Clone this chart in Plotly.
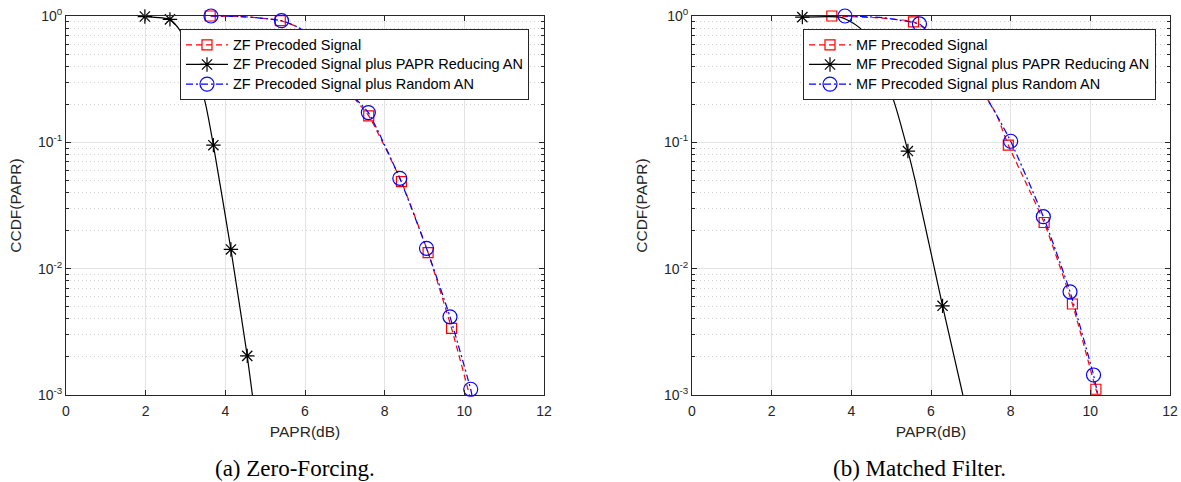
import plotly.graph_objects as go

# ---------------- data ----------------
# (a) Zero-Forcing
zf_red_line_x = [3.62, 4.5, 5.38, 5.87, 6.5, 7.06, 7.60, 8.42, 9.09, 9.68, 10.13]
zf_red_line_y = [1.0, 0.985, 0.92, 0.80, 0.50, 0.26, 0.162, 0.0488, 0.0134, 0.00337, 0.001]
zf_red_mk_x = [3.62, 5.38, 7.60, 8.42, 9.09, 9.68]
zf_red_mk_y = [1.0, 0.92, 0.162, 0.0488, 0.0134, 0.00337]

zf_blk_line_x = [1.98, 2.61, 2.86, 3.41, 3.51, 3.70, 4.14, 4.55, 4.68]
zf_blk_line_y = [0.99, 0.94, 0.77, 0.26, 0.197, 0.095, 0.0142, 0.00204, 0.001]
zf_blk_mk_x = [1.98, 2.61, 3.70, 4.14, 4.55]
zf_blk_mk_y = [0.99, 0.94, 0.095, 0.0142, 0.00204]

zf_blu_line_x = [3.64, 4.5, 5.41, 5.87, 6.5, 7.06, 7.59, 8.38, 9.05, 9.64, 10.16, 10.19]
zf_blu_line_y = [1.0, 0.985, 0.918, 0.80, 0.50, 0.26, 0.172, 0.0519, 0.0145, 0.00416, 0.00111, 0.001]
zf_blu_mk_x = [3.64, 5.41, 7.59, 8.38, 9.05, 9.64, 10.16]
zf_blu_mk_y = [1.0, 0.918, 0.172, 0.0519, 0.0145, 0.00416, 0.00111]

# (b) Matched Filter
mf_red_line_x = [3.51, 4.6, 5.56, 5.85, 6.6, 7.27, 7.65, 7.94, 8.84, 9.55, 10.14, 10.19]
mf_red_line_y = [1.0, 0.97, 0.90, 0.79, 0.50, 0.26, 0.164, 0.0952, 0.0232, 0.00525, 0.00111, 0.001]
mf_red_mk_x = [3.51, 5.56, 7.94, 8.84, 9.55, 10.14]
mf_red_mk_y = [1.0, 0.90, 0.0952, 0.0232, 0.00525, 0.00111]

mf_blk_line_x = [2.77, 3.72, 4.05, 4.26, 4.97, 5.10, 5.42, 5.60, 6.29, 6.80]
mf_blk_line_y = [0.98, 0.98, 0.875, 0.775, 0.26, 0.197, 0.0853, 0.0503, 0.00508, 0.001]
mf_blk_mk_x = [2.77, 5.42, 6.29]
mf_blk_mk_y = [0.98, 0.0853, 0.00508]

mf_blu_line_x = [3.84, 4.8, 5.71, 5.85, 6.6, 7.27, 7.65, 8.00, 8.82, 9.49, 10.08, 10.19]
mf_blu_line_y = [1.0, 0.97, 0.865, 0.80, 0.50, 0.26, 0.164, 0.102, 0.0258, 0.00656, 0.00144, 0.001]
mf_blu_mk_x = [3.84, 5.71, 8.00, 8.82, 9.49, 10.08]
mf_blu_mk_y = [1.0, 0.865, 0.102, 0.0258, 0.00656, 0.00144]

zf_names = ["ZF Precoded Signal",
            "ZF Precoded Signal plus PAPR Reducing AN",
            "ZF Precoded Signal plus Random AN"]
mf_names = ["MF Precoded Signal",
            "MF Precoded Signal plus PAPR Reducing AN",
            "MF Precoded Signal plus Random AN"]

x_ticks = [0, 2, 4, 6, 8, 10, 12]
y_ticks = [1e-3, 1e-2, 1e-1, 1]
y_ticktext = ["10<sup>-3</sup>", "10<sup>-2</sup>", "10<sup>-1</sup>", "10<sup>0</sup>"]
y_minor = [m * 10.0 ** d for d in (-3, -2, -1) for m in range(2, 10)]

captions = ["(a) Zero-Forcing.", "(b) Matched Filter."]

# ---------------- styles ----------------
RED, BLK, BLU = "#ff0000", "#000000", "#0000ff"
AX = "#262626"
DASH = "6px,4px"
DASHDOT = "7px,3px,2px,3px"
LW = 1.2

styles = [
    dict(color=RED, dash=DASH, symbol="square-open", size=10),
    dict(color=BLK, dash="solid", symbol="asterisk-open", size=12),
    dict(color=BLU, dash=DASHDOT, symbol="circle-open", size=14),
]

fig = go.Figure()

panels = [
    ("x", "y", "legend", zf_names,
     [(zf_red_line_x, zf_red_line_y, zf_red_mk_x, zf_red_mk_y),
      (zf_blk_line_x, zf_blk_line_y, zf_blk_mk_x, zf_blk_mk_y),
      (zf_blu_line_x, zf_blu_line_y, zf_blu_mk_x, zf_blu_mk_y)]),
    ("x2", "y2", "legend2", mf_names,
     [(mf_red_line_x, mf_red_line_y, mf_red_mk_x, mf_red_mk_y),
      (mf_blk_line_x, mf_blk_line_y, mf_blk_mk_x, mf_blk_mk_y),
      (mf_blu_line_x, mf_blu_line_y, mf_blu_mk_x, mf_blu_mk_y)]),
]

LEG_TXT = '<span style="font-size:14.5px">%s</span>'

for xa, ya, lg, names, series in panels:
    for (lx, ly, mx, my), st, name in zip(series, styles, names):
        fig.add_trace(go.Scatter(
            x=lx, y=ly, mode="lines", xaxis=xa, yaxis=ya,
            line=dict(color=st["color"], width=LW, dash=st["dash"], shape="spline", smoothing=0.5),
            showlegend=False, hoverinfo="skip"))
        fig.add_trace(go.Scatter(
            x=mx, y=my, mode="markers", xaxis=xa, yaxis=ya, cliponaxis=False,
            marker=dict(symbol=st["symbol"], size=st["size"], color=st["color"],
                        line=dict(color=st["color"], width=1.2)),
            showlegend=False))
    for st, name in zip(styles, names):
        fig.add_trace(go.Scatter(
            x=[None], y=[None], mode="lines+markers", xaxis=xa, yaxis=ya,
            name=LEG_TXT % name, legend=lg,
            line=dict(color=st["color"], width=LW, dash=st["dash"]),
            marker=dict(symbol=st["symbol"], size=st["size"], color=st["color"],
                        line=dict(color=st["color"], width=1.2))))

FONT = "Liberation Sans, Arial, sans-serif"

def xaxis(domain, anchor):
    return dict(domain=domain, anchor=anchor, range=[0, 12], tickvals=x_ticks,
                ticks="inside", ticklen=5, tickcolor=AX, tickwidth=1,
                showline=True, linecolor=AX, linewidth=1, mirror="ticks",
                showgrid=True, gridcolor="#e3e3e3", gridwidth=1, zeroline=False,
                tickfont=dict(family=FONT, size=14, color=AX), ticklabelstandoff=3,
                title=dict(text="PAPR(dB)", font=dict(family=FONT, size=15.5, color=AX), standoff=8),
                automargin=False)

def yaxis(domain, anchor):
    return dict(domain=domain, anchor=anchor, type="log", range=[-3, 0],
                tickvals=y_ticks, ticktext=y_ticktext,
                ticks="inside", ticklen=5, tickcolor=AX, tickwidth=1,
                showline=True, linecolor=AX, linewidth=1, mirror="ticks",
                showgrid=True, gridcolor="#e3e3e3", gridwidth=1, zeroline=False,
                minor=dict(tickvals=y_minor, ticks="inside", ticklen=3, tickcolor=AX,
                           showgrid=True, gridcolor="#d0d0d0", griddash="1px,3px", gridwidth=1),
                tickfont=dict(family=FONT, size=14, color=AX),
                title=dict(text="CCDF(PAPR)", font=dict(family=FONT, size=15.5, color=AX), standoff=12),
                automargin=False)

W, H = 1181, 482
yd = [1 - 395 / H, 1 - 16 / H]

legend_common = dict(bgcolor="white", bordercolor=AX, borderwidth=1,
                     font=dict(family=FONT, size=12.8, color="#000000"),
                     xanchor="left", yanchor="top", tracegroupgap=0, itemclick=False,
                     itemwidth=42)

fig.update_layout(
    width=W, height=H, margin=dict(l=0, r=0, t=0, b=0),
    paper_bgcolor="white", plot_bgcolor="white",
    xaxis=xaxis([66 / W, 544 / W], "y"),
    yaxis=yaxis(yd, "x"),
    xaxis2=xaxis([692 / W, 1170 / W], "y2"),
    yaxis2=yaxis(yd, "x2"),
    legend=dict(x=180 / W, y=1 - 29 / H, **legend_common),
    legend2=dict(x=803 / W, y=1 - 29 / H, **legend_common),
    annotations=[
        dict(text=captions[0], x=295 / W, y=1 - 468 / H, xref="paper", yref="paper",
             showarrow=False, xanchor="center", yanchor="middle",
             font=dict(family="Liberation Serif, serif", size=23, color="#000000")),
        dict(text=captions[1], x=919 / W, y=1 - 468 / H, xref="paper", yref="paper",
             showarrow=False, xanchor="center", yanchor="middle",
             font=dict(family="Liberation Serif, serif", size=23, color="#000000")),
    ],
)

fig.write_html("out.html", config={"displayModeBar": False},
               post_script="document.body.style.margin='0px';")
